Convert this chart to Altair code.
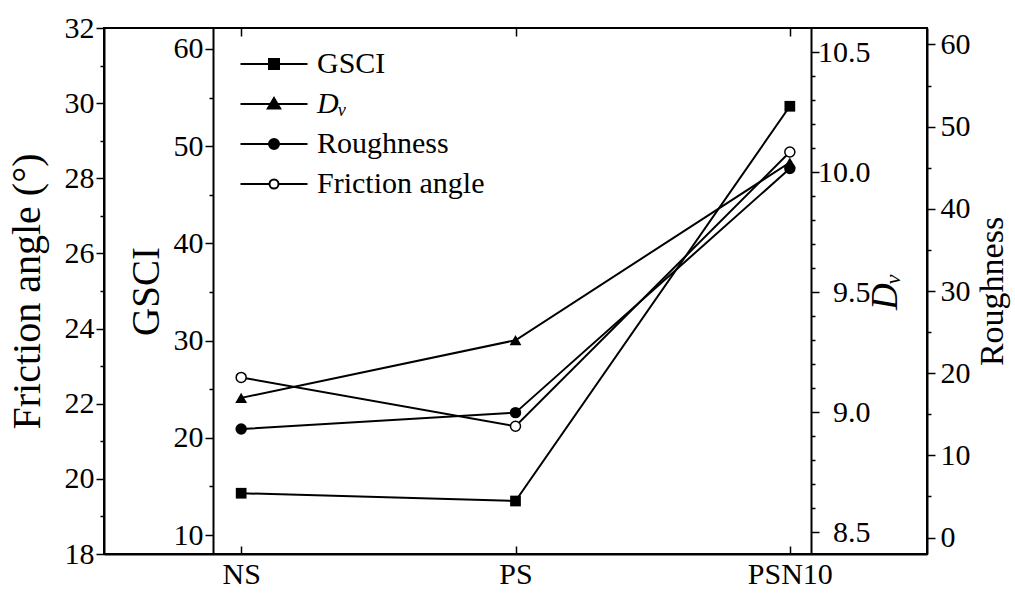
import altair as alt
import pandas as pd

# ---------------- data ----------------
categories = ["NS", "PS", "PSN10"]
gsci = [14.3, 13.5, 54.1]
dv = [9.06, 9.30, 10.04]
roughness = [13.2, 15.2, 44.9]
friction = [22.7, 21.4, 28.7]

series = ["GSCI", "D\u1d65", "Roughness", "Friction angle"]

# axis tick values
friction_major = [18, 20, 22, 24, 26, 28, 30, 32]
friction_minor = [19, 21, 23, 25, 27, 29, 31]
gsci_major = [10, 20, 30, 40, 50, 60]
gsci_minor = [15, 25, 35, 45, 55]
dv_major = [8.5, 9.0, 9.5, 10.0, 10.5]
dv_minor = [8.6, 8.7, 8.8, 8.9, 9.1, 9.2, 9.3, 9.4, 9.6, 9.7, 9.8, 9.9,
            10.1, 10.2, 10.3, 10.4]
rough_major = [0, 10, 20, 30, 40, 50, 60]
rough_minor = [5, 15, 25, 35, 45, 55]

gsci_domain = [8.05, 62.15]
friction_domain = [18, 32]
dv_domain = [8.41, 10.6]
rough_domain = [-2, 62]

df = pd.DataFrame({
    "sample": categories,
    "GSCI": gsci,
    "Dv": dv,
    "Roughness": roughness,
    "Friction": friction,
})

FONT = "Liberation Serif"
W, H = 823, 526
LABEL_SIZE = 30

x_scale = alt.Scale(type="point", padding=0.5)


def xenc(axis=None):
    return alt.X("sample:N", sort=categories, scale=x_scale, axis=axis)


common_axis = dict(
    labelFont=FONT, labelFontSize=LABEL_SIZE, labelColor="black",
    tickColor="black", tickWidth=1.5, domainColor="black", domainWidth=2,
    grid=False, labelOverlap=False, labelFlush=False,
    titleFont=FONT, titleFontWeight="normal", titleColor="black",
)


def major_axis(orient, offset, values, title, **kw):
    d = dict(common_axis)
    d.update(orient=orient, offset=offset, values=values, title=title, tickSize=8)
    d.update(kw)
    return alt.Axis(**d)


def minor_axis(orient, offset, values):
    return alt.Axis(orient=orient, offset=offset, values=values, labels=False,
                    domain=False, tickSize=4, tickColor="black", tickWidth=1.5,
                    grid=False, title=None)


x_bottom_labels = alt.Axis(orient="bottom", labels=True, ticks=False, domain=True,
                           domainColor="black", domainWidth=2, labelFont=FONT,
                           labelFontSize=LABEL_SIZE, labelColor="black",
                           labelPadding=5, grid=False, title=None, labelAngle=0)
x_bottom_ticks = alt.Axis(orient="bottom", offset=-8, labels=False, domain=False,
                          tickSize=8, tickColor="black", tickWidth=1.5,
                          grid=False, title=None)
x_top_ticks = alt.Axis(orient="top", offset=-8, labels=False, domain=False,
                       tickSize=8, tickColor="black", tickWidth=1.5,
                       grid=False, title=None)


def series_layers(field, domain, maj, mino, point_mark, x_axis=None):
    yscale = alt.Scale(domain=domain, nice=False, zero=False)
    line = alt.Chart(df).mark_line(color="black", strokeWidth=2).encode(
        x=xenc(x_axis),
        y=alt.Y(f"{field}:Q", scale=yscale, axis=maj),
    )
    pts = alt.Chart(df).mark_point(**point_mark).encode(
        x=xenc(None),
        y=alt.Y(f"{field}:Q", scale=yscale, axis=mino),
    )
    return [line, pts]


layers = []
layers += series_layers(
    "Friction", friction_domain,
    major_axis("left", 0, friction_major, "Friction angle (°)",
               titleFontSize=40, titlePadding=17),
    minor_axis("left", 0, friction_minor),
    dict(shape="circle", filled=True, fill="white", stroke="black",
         strokeWidth=1.5, size=100, opacity=1),
    x_axis=x_bottom_labels,
)
layers += series_layers(
    "GSCI", gsci_domain,
    major_axis("left", -109, gsci_major, "GSCI", titleFontSize=39, titlePadding=7),
    minor_axis("left", -109, gsci_minor),
    dict(shape="square", filled=True, color="black", size=115, opacity=1),
    x_axis=x_bottom_ticks,
)
layers += series_layers(
    "Dv", dv_domain,
    major_axis("right", -116, dv_major, "D\u1d65", format=".1f",
               labelAlign="right", labelPadding=51, titleFontStyle="italic",
               titleFontSize=37, titleAngle=270, titleBaseline="top",
               titlePadding=-3),
    minor_axis("right", -116, dv_minor),
    dict(shape="triangle-up", filled=True, color="black", size=140, opacity=1),
    x_axis=x_top_ticks,
)
layers += series_layers(
    "Roughness", rough_domain,
    major_axis("right", 0, rough_major, "Roughness", labelPadding=5,
               titleFontSize=34, titleAngle=270, titleBaseline="top",
               titlePadding=5),
    minor_axis("right", 0, rough_minor),
    dict(shape="circle", filled=True, color="black", size=130, opacity=1),
)

# all lines first, then all points on top
lines = layers[0::2]
points = layers[1::2]

# ---------------- legend (built from the series names) ----------------
legend_paths = [
    "M-3.35,0H3.35M-0.5,-0.5H0.5V0.5H-0.5Z",
    "M-3.35,0H3.35M0,-0.6L0.62,0.45L-0.62,0.45Z",
    "M-3.35,0H3.35M0.5,0A0.5,0.5,0,1,1,-0.5,0A0.5,0.5,0,1,1,0.5,0Z",
    "M-3.35,0H-0.45M0.45,0H3.35M0.45,0A0.45,0.45,0,1,1,-0.45,0A0.45,0.45,0,1,1,0.45,0Z",
]
legend_fills = ["black", "black", "black", "white"]
legend_strokes = ["black", "black", "black", "black"]
legend_df = pd.DataFrame({"series": series})

legend = alt.Legend(
    orient="none", legendX=155, legendY=21, title=None,
    labelFont=FONT, labelFontSize=30, labelColor="black", labelOffset=28,
    rowPadding=10, symbolSize=400, symbolStrokeColor="black",
    symbolStrokeWidth=2, padding=0, labelLimit=400, symbolOpacity=1,
    labelFontStyle=alt.ExprRef(expr="datum.label == 'D\u1d65' ? 'italic' : 'normal'"),
)
leg = alt.Chart(legend_df).mark_point(filled=True, strokeWidth=2, opacity=1).encode(
    shape=alt.Shape("series:N", sort=series,
                    scale=alt.Scale(domain=series, range=legend_paths), legend=legend),
    fill=alt.Fill("series:N", sort=series,
                  scale=alt.Scale(domain=series, range=legend_fills), legend=legend),
    stroke=alt.Stroke("series:N", sort=series,
                      scale=alt.Scale(domain=series, range=legend_strokes), legend=legend),
).transform_filter("false")

chart = (
    alt.layer(*lines, *points, leg)
    .resolve_scale(y="independent")
    .resolve_axis(y="independent", x="independent")
    .properties(
        width=W, height=H,
        padding={"left": 104, "top": 28, "right": 88, "bottom": 39},
        autosize=alt.AutoSizeParams(type="none"),
        background="white",
    )
    .configure_view(stroke="black", strokeWidth=2)
)

chart.save("out.html", embed_options={"renderer": "svg", "actions": False})
